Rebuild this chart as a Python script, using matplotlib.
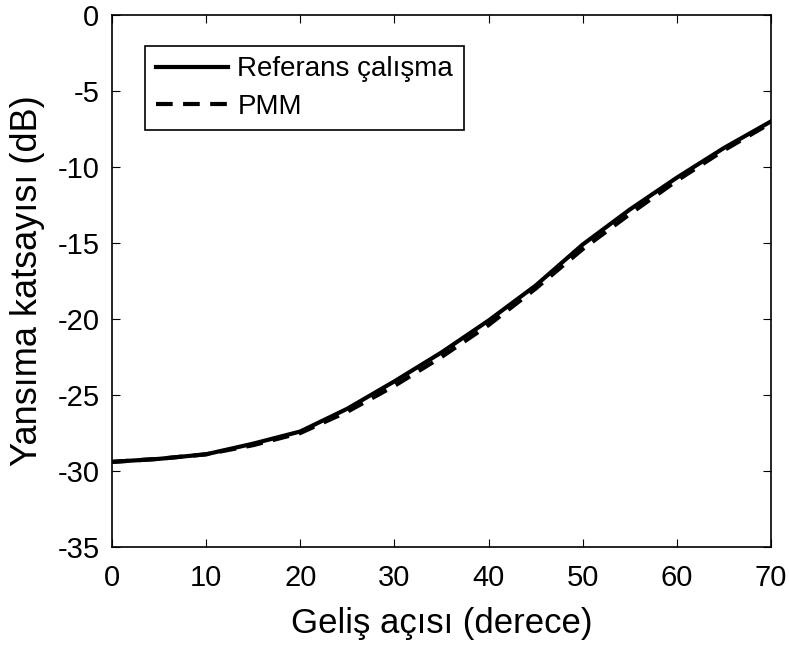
import numpy as np
import matplotlib.pyplot as plt

plt.rcParams['font.family'] = ['Liberation Sans', 'DejaVu Sans']
plt.rcParams['axes.unicode_minus'] = False

# incidence angle (deg) and reflection coefficient (dB)
angle = [0, 5, 10, 15, 20, 25, 30, 35, 40, 45, 50, 55, 60, 65, 70]
ref_db = [-29.4, -29.2, -28.9, -28.2, -27.4, -25.9, -24.1, -22.2, -20.1, -17.8,
          -15.1, -12.8, -10.7, -8.75, -7.0]
pmm_db = [-29.4, -29.2, -28.9, -28.3, -27.5, -26.1, -24.4, -22.5, -20.4, -18.0,
          -15.4, -13.1, -10.9, -8.9, -7.1]

fig = plt.figure(figsize=(7.89, 6.48), dpi=100)
ax = fig.add_axes([112/789, 1 - 547/648, (771-112)/789, (547-15)/648])

ax.plot(angle, ref_db, color='black', linewidth=3, label='Referans çalışma')
ax.plot(angle, pmm_db, color='black', linewidth=3, linestyle=(0, (4, 2.5)), label='PMM')

ax.set_xlim(0, 70)
ax.set_ylim(-35, 0)
ax.set_xticks(range(0, 71, 10))
ax.set_yticks(range(-35, 1, 5))
ax.tick_params(direction='in', labelsize=21, length=6, top=True, right=True,
               labeltop=False, labelright=False)
ax.tick_params(axis='x', pad=12)
ax.tick_params(axis='y', pad=9)
for s in ax.spines.values():
    s.set_linewidth(1.2)

ax.set_xlabel('Geliş açısı (derece)', fontsize=25, labelpad=11)
ax.set_ylabel('Yansıma katsayısı (dB)', fontsize=26, labelpad=9)

leg = ax.legend(loc='upper left', bbox_to_anchor=(0.050, 0.942), borderaxespad=0,
                fontsize=20, fancybox=False, edgecolor='black', framealpha=1,
                handlelength=2.6, handletextpad=0.35, borderpad=0.38, labelspacing=0.4)
leg.get_frame().set_linewidth(1.2)

fig.savefig('out.png', dpi=100)
